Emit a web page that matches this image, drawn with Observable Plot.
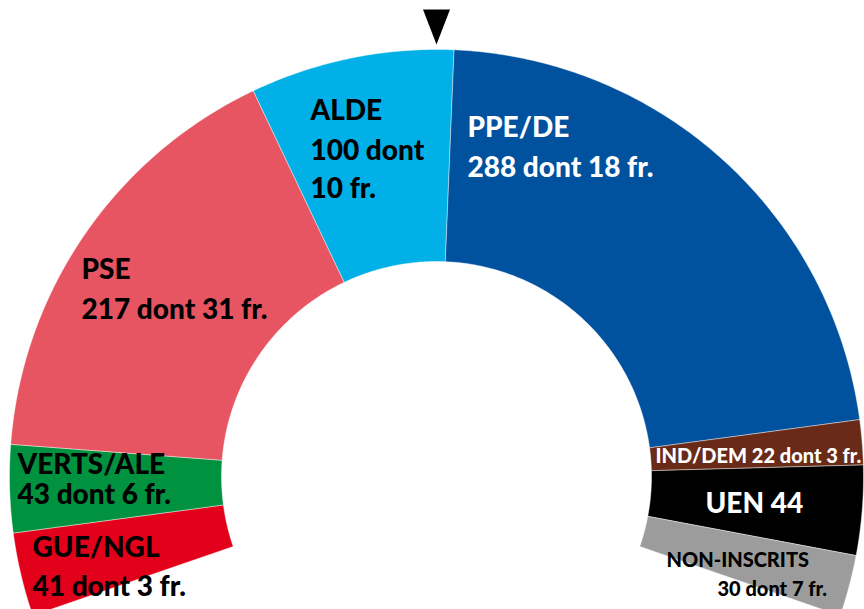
<!DOCTYPE html>
<html><head><meta charset="utf-8">
<script src="https://cdn.jsdelivr.net/npm/d3@7"></script>
<script src="https://cdn.jsdelivr.net/npm/@observablehq/plot@0.6"></script>
<style>html,body{margin:0;padding:0;background:#fff;overflow:hidden}</style>
</head><body><div id="chart"></div>
<script>
// ---- data ----
const groups = ["GUE/NGL","VERTS/ALE","PSE","ALDE","PPE/DE","IND/DEM","UEN","NON-INSCRITS"];
const seats  = [41, 43, 217, 100, 288, 22, 44, 30];
const french = [3, 6, 31, 10, 18, 3, null, 7];
const colors = ["#e2001a","#00923f","#e75462","#00b0e6","#00519e","#692b17","#000000","#9c9c9c"];

// ---- layout (pixels) ----
const W = 864, H = 609;
const CX = 436, CY = 476, R_OUT = 427, R_IN = 215, SPAN = 109; // degrees each side
const FONT = "Lato";

// label layout: [group index, line index, x, baseline y, size, colour]
const labelLayout = [
  [0, 0, 32, 556, 28, "#000"], [0, 1, 32, 595, 28, "#000"],
  [1, 0, 17, 473, 28, "#000"], [1, 1, 17, 503, 28, "#000"],
  [2, 0, 81, 278, 28, "#000"], [2, 1, 81, 318, 28, "#000"],
  [3, 0, 310, 119, 28, "#000"], [3, 1, 310, 159, 28, "#000"], [3, 2, 310, 197, 28, "#000"],
  [4, 0, 467, 136, 28, "#fff"], [4, 1, 467, 176, 28, "#fff"],
  [5, 0, 655, 462, 20, "#fff"],
  [6, 0, 705, 512, 28, "#fff"],
  [7, 0, 666, 566, 20, "#000"], [7, 1, 717, 595, 20, "#000"]
];

function labelLines(i) {
  const g = groups[i], s = seats[i], f = french[i];
  if (g === "ALDE") return [g, `${s} dont`, `${f} fr.`];
  if (g === "IND/DEM") return [`${g} ${s} dont ${f} fr.`];
  if (f == null) return [`${g} ${s}`];
  return [g, `${s} dont ${f} fr.`];
}

// ---- geometry from data ----
const total = d3.sum(seats);
const angle = d3.scaleLinear().domain([0, total]).range([-SPAN, SPAN]);
const rad = a => a * Math.PI / 180;
const px = (r, a) => CX + r * Math.sin(rad(a));
const py = (r, a) => CY - r * Math.cos(rad(a));

const cum = d3.cumsum(seats);
const arcPts = [];
groups.forEach((g, i) => {
  const a0 = angle(cum[i] - seats[i]), a1 = angle(cum[i]);
  const n = Math.max(6, Math.ceil(seats[i] / 2));
  for (let k = 0; k <= n; k++) { const a = a0 + (a1 - a0) * k / n; arcPts.push({g, x: px(R_OUT, a), y: py(R_OUT, a)}); }
  for (let k = n; k >= 0; k--) { const a = a0 + (a1 - a0) * k / n; arcPts.push({g, x: px(R_IN, a), y: py(R_IN, a)}); }
  arcPts.push({g, x: px(R_OUT, a0), y: py(R_OUT, a0)});
});

// majority marker (half of total seats)
const am = angle(total / 2);
const apex = R_OUT + 5, base = R_OUT + 40, half = 13.5;
const tri = [
  {x: px(apex, am), y: py(apex, am)},
  {x: px(base, am) + half * Math.cos(rad(am)), y: py(base, am) + half * Math.sin(rad(am))},
  {x: px(base, am) - half * Math.cos(rad(am)), y: py(base, am) - half * Math.sin(rad(am))},
  {x: px(apex, am), y: py(apex, am)}
];

const labels = labelLayout.map(([i, li, x, y, size, fill]) => ({text: labelLines(i)[li], x, y, size, fill}));
const sizes = [...new Set(labels.map(d => d.size))];

const chart = Plot.plot({
  width: W, height: H, margin: 0,
  x: {domain: [0, W], range: [0, W], axis: null},
  y: {domain: [0, H], range: [0, H], axis: null},
  color: {domain: groups, range: colors},
  style: {background: "#fff"},
  marks: [
    Plot.line(arcPts, {x: "x", y: "y", z: "g", fill: "g", stroke: "#fff", strokeWidth: 0.6, strokeOpacity: 0.7, curve: "linear"}),
    Plot.line(tri, {x: "x", y: "y", fill: "#000", stroke: "none"}),
    ...sizes.map(s => Plot.text(labels.filter(d => d.size === s), {
      x: "x", y: "y", text: "text", fill: d => d.fill, textAnchor: "start", lineAnchor: "bottom",
      fontSize: s, fontWeight: 900, fontFamily: FONT
    }))
  ]
});
document.getElementById("chart").appendChild(chart);
</script>
</body></html>
